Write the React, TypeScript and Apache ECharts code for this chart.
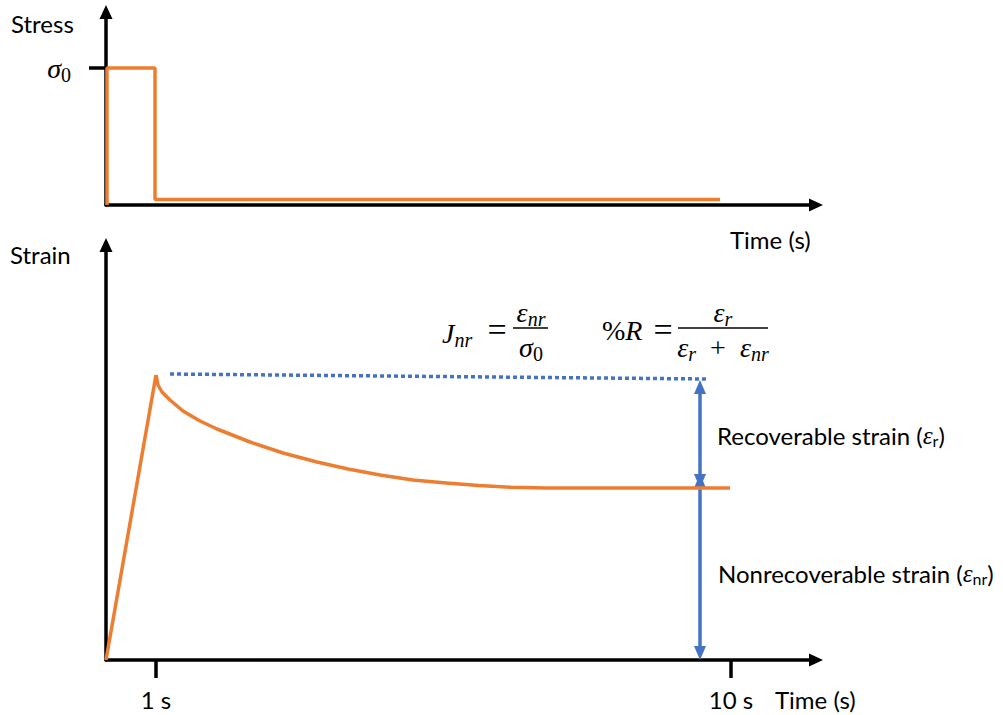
import React, { useEffect, useRef } from "react";
import * as echarts from "echarts";

// ---- data (schematic units) ----
const stressTime = [0.02, 0.02, 0.98, 0.98, 12.28];
const stressValue = [0, 1, 1, 0.04, 0.04];

const riseTime = [0, 1.0];
const riseStrain = [0, 2.85];

const decayTime = [1.0, 1.04, 1.12, 1.28, 1.54, 1.88, 2.22, 2.88, 3.54, 4.22, 4.84, 5.48, 6.14, 6.8, 7.46, 8.1, 8.8, 9.08, 12.48];
const decayStrain = [2.85, 2.75, 2.68, 2.6, 2.49, 2.39, 2.31, 2.18, 2.07, 1.98, 1.91, 1.85, 1.8, 1.77, 1.745, 1.728, 1.72, 1.72, 1.72];

const refTime = [1.28, 12.0];
const refStrain = [2.86, 2.81];

const arrowTime = 11.88;
const totalStrain = 2.8;
const nonrecStrain = 1.72;

const tickTimes = [1, 12.5];
const tickLabels = ["1 s", "10 s"];
const sigmaTick = [1];

const ORANGE = "#ED7D31";
const BLUE = "#4472C4";
const TXT = "Lato";
const MATH = "Liberation Serif";

export default function App() {
  const ref = useRef<HTMLDivElement>(null);
  useEffect(() => {
    const chart = echarts.init(ref.current!, null, { renderer: "svg" });
    const zip = (a: number[], b: number[]) => a.map((v, i) => [v, b[i]]);
    const inset = 0.07;

    const axisLineBase = {
      show: true,
      symbol: ["none", "triangle"],
      symbolSize: [13, 14],
      lineStyle: { color: "#000", width: 3.5 },
    };

    const mathRich = {
      v: { fontFamily: MATH, fontStyle: "italic", fontSize: 28, color: "#000" },
      n: { fontFamily: MATH, fontSize: 28, color: "#000" },
      q: { fontFamily: MATH, fontSize: 34, color: "#000" },
      s: { fontFamily: MATH, fontStyle: "italic", fontSize: 20, color: "#000", padding: [13, 0, 0, 0] },
      z: { fontFamily: MATH, fontSize: 20, color: "#000", padding: [13, 0, 0, 0] },
    };
    const mtext = (text: string, x: number, y: number, align = "center") => ({
      type: "text",
      x,
      y,
      style: { text, rich: mathRich, textAlign: align, textVerticalAlign: "middle" },
    });
    const label = (text: string, x: number, y: number, rich?: any) => ({
      type: "text",
      x,
      y,
      style: {
        text,
        fontFamily: TXT,
        fontSize: 24,
        fill: "#000",
        textAlign: "left",
        textVerticalAlign: "middle",
        rich,
      },
    });
    const epsRich = {
      e: { fontFamily: MATH, fontStyle: "italic", fontSize: 25, color: "#000" },
      b: { fontFamily: TXT, fontSize: 16, color: "#000", padding: [10, 0, 0, 0] },
    };
    const bar = (x1: number, x2: number, y: number) => ({
      type: "line",
      shape: { x1, y1: y, x2, y2: y },
      style: { stroke: "#000", lineWidth: 1.5 },
    });

    chart.setOption({
      animation: false,
      textStyle: { fontFamily: TXT },
      grid: [
        { left: 106, top: 12, right: 187, bottom: 510 },
        { left: 106, top: 245, right: 187, bottom: 55 },
      ],
      xAxis: [
        {
          gridIndex: 0,
          type: "value",
          min: 0,
          max: 14.2,
          axisLine: axisLineBase,
          axisTick: { show: false },
          axisLabel: { show: false },
          splitLine: { show: false },
        },
        {
          gridIndex: 1,
          type: "value",
          min: 0,
          max: 14.2,
          axisLine: axisLineBase,
          axisTick: {
            show: true,
            customValues: tickTimes,
            length: 18,
            lineStyle: { color: "#000", width: 3.5 },
          },
          axisLabel: {
            show: true,
            customValues: tickTimes,
            formatter: (v: number) => tickLabels[tickTimes.indexOf(v)] ?? "",
            fontFamily: TXT,
            fontSize: 24,
            color: "#000",
            margin: 27,
          },
          splitLine: { show: false },
        },
      ],
      yAxis: [
        {
          gridIndex: 0,
          type: "value",
          min: 0,
          max: 1.409,
          axisLine: axisLineBase,
          axisTick: {
            show: true,
            customValues: sigmaTick,
            length: 17,
            lineStyle: { color: "#000", width: 3.5 },
          },
          axisLabel: {
            show: true,
            customValues: sigmaTick,
            formatter: () => "{v|σ}{z|0}",
            rich: mathRich,
            margin: 35,
          },
          splitLine: { show: false },
        },
        {
          gridIndex: 1,
          type: "value",
          min: 0,
          max: 4.15,
          axisLine: axisLineBase,
          axisTick: { show: false },
          axisLabel: { show: false },
          splitLine: { show: false },
        },
      ],
      series: [
        {
          type: "line",
          xAxisIndex: 0,
          yAxisIndex: 0,
          data: zip(stressTime, stressValue),
          showSymbol: false,
          lineStyle: { color: ORANGE, width: 3.5 },
          z: 5,
        },
        {
          type: "line",
          xAxisIndex: 1,
          yAxisIndex: 1,
          data: zip(riseTime, riseStrain),
          showSymbol: false,
          lineStyle: { color: ORANGE, width: 3.5 },
          z: 5,
        },
        {
          type: "line",
          xAxisIndex: 1,
          yAxisIndex: 1,
          data: zip(decayTime, decayStrain),
          showSymbol: false,
          smooth: false,
          lineStyle: { color: ORANGE, width: 3.5, join: "round" },
          z: 5,
        },
        {
          type: "line",
          xAxisIndex: 1,
          yAxisIndex: 1,
          data: zip(refTime, refStrain),
          showSymbol: false,
          lineStyle: { color: BLUE, width: 3.5, type: [4, 3], cap: "butt" },
          z: 4,
          markLine: {
            silent: true,
            symbol: ["triangle", "triangle"],
            symbolSize: [12, 14],
            label: { show: false },
            lineStyle: { color: BLUE, width: 3.5, type: "solid" },
            data: [
              [
                { coord: [arrowTime, totalStrain - inset] },
                { coord: [arrowTime, nonrecStrain + inset] },
              ],
              [
                { coord: [arrowTime, nonrecStrain + inset] },
                { coord: [arrowTime, 0 + inset] },
              ],
            ],
          },
        },
      ],
      graphic: [
        label("Stress", 11, 23),
        label("Strain", 10, 254),
        label("Time (s)", 730, 239),
        label("Time (s)", 775, 699),
        label("Recoverable strain ({e|ε}{b|r})", 717, 435, epsRich),
        label("Nonrecoverable strain ({e|ε}{b|nr})", 718, 573, epsRich),
        // J_nr = eps_nr / sigma_0
        mtext("{v|J}{s|nr}", 442, 333, "left"),
        mtext("{q|=}", 497, 329),
        bar(513, 548, 328),
        mtext("{v|ε}{s|nr}", 531, 312),
        mtext("{v|σ}{z|0}", 531, 347),
        // %R = eps_r / (eps_r + eps_nr)
        mtext("{n|%}{v|R}", 602, 330, "left"),
        mtext("{q|=}", 663, 329),
        bar(678, 768, 328),
        mtext("{v|ε}{s|r}", 723, 312),
        mtext("{v|ε}{s|r}{n|  +  }{v|ε}{s|nr}", 723, 347),
      ],
    });
    return () => chart.dispose();
  }, []);
  return (
    <div
      ref={ref}
      style={{ position: "fixed", left: 0, top: 0, width: 1003, height: 715, background: "#fff" }}
    />
  );
}
